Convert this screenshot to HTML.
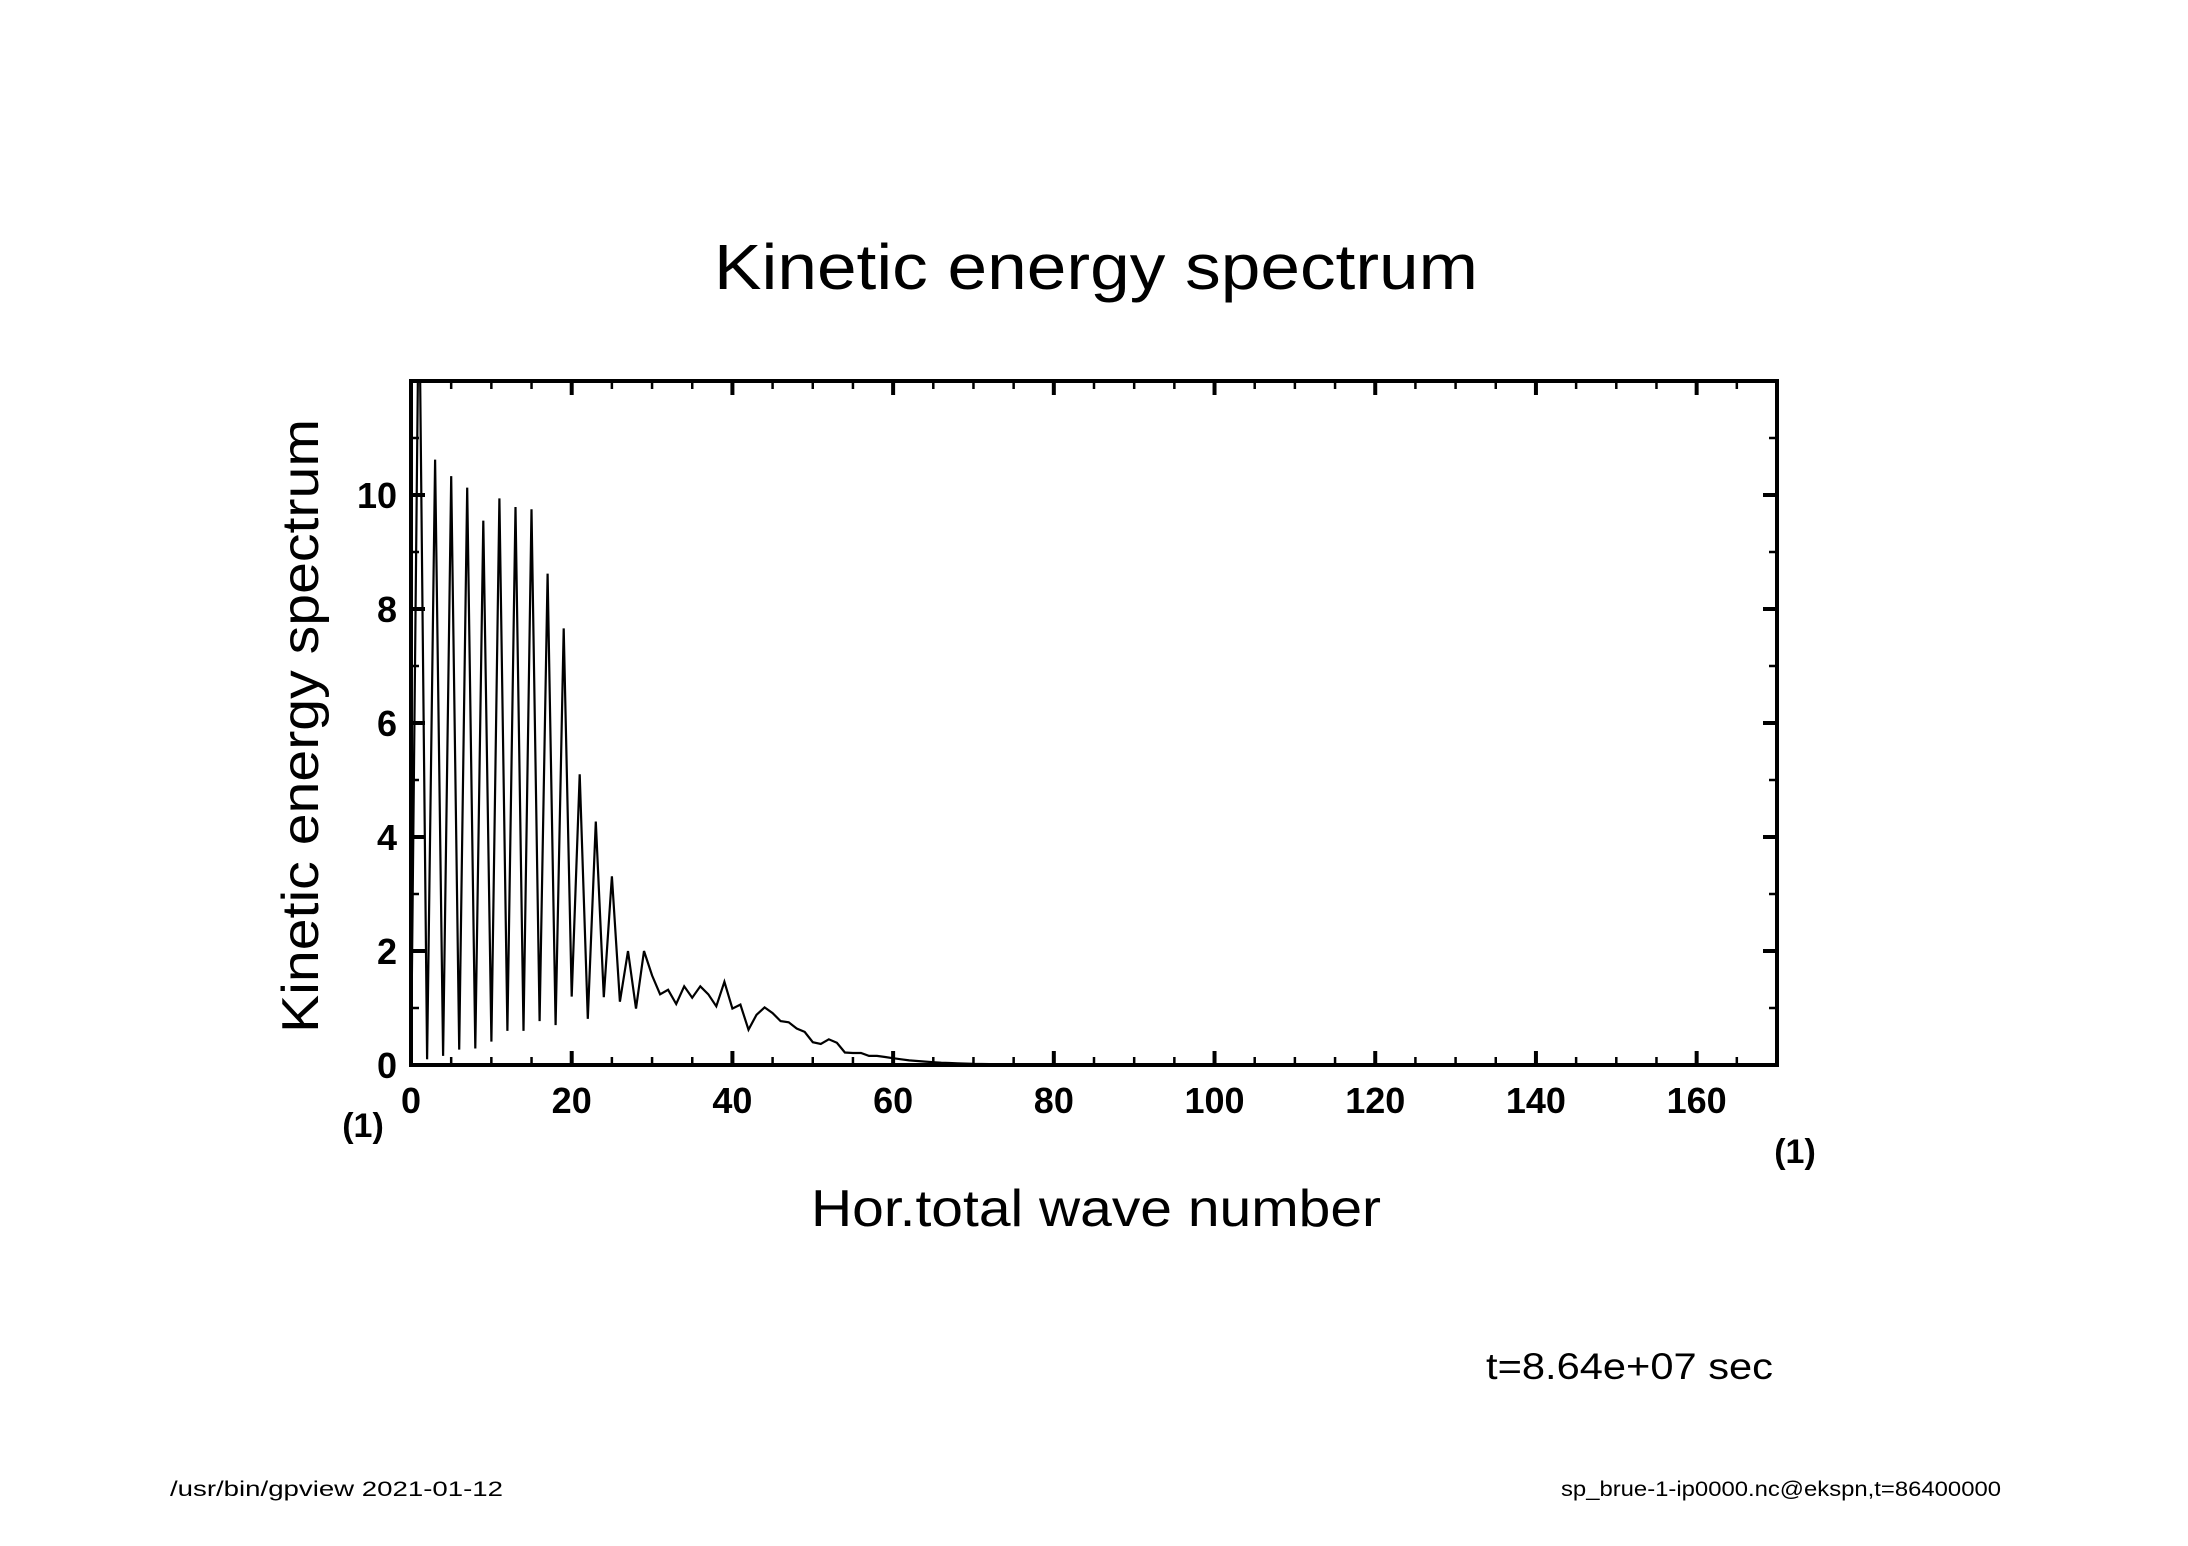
<!DOCTYPE html>
<html><head><meta charset="utf-8"><style>
html,body{margin:0;padding:0;background:#fff;}
svg{display:block;}
text{font-family:"Liberation Sans","DejaVu Sans",sans-serif;fill:#000;}
</style></head><body>
<svg id="chart" width="2188" height="1546" viewBox="0 0 2188 1546" xmlns="http://www.w3.org/2000/svg">
<defs><clipPath id="clip"><rect x="411" y="381" width="1366" height="684"/></clipPath></defs>
<text x="1096" y="289" text-anchor="middle" font-size="64" textLength="764" lengthAdjust="spacingAndGlyphs">Kinetic energy spectrum</text>
<g id="axes"></g>
<g id="series" clip-path="url(#clip)"></g>
<rect x="411" y="381" width="1366" height="684" fill="none" stroke="#000" stroke-width="4"/>
<text x="363" y="1137" text-anchor="middle" font-size="34" font-weight="bold">(1)</text>
<text x="1795" y="1163" text-anchor="middle" font-size="34" font-weight="bold">(1)</text>
<text x="1096" y="1226" text-anchor="middle" font-size="52" textLength="570" lengthAdjust="spacingAndGlyphs">Hor.total wave number</text>
<text transform="translate(318,726) rotate(-90)" text-anchor="middle" font-size="52" textLength="614" lengthAdjust="spacingAndGlyphs">Kinetic energy spectrum</text>
<text x="1486" y="1379" font-size="37" textLength="287" lengthAdjust="spacingAndGlyphs">t=8.64e+07 sec</text>
<text x="170" y="1496" font-size="21" textLength="333" lengthAdjust="spacingAndGlyphs">/usr/bin/gpview  2021-01-12</text>
<text x="1561" y="1496" font-size="21" textLength="440" lengthAdjust="spacingAndGlyphs">sp_brue-1-ip0000.nc@ekspn,t=86400000</text>
</svg>
<script>
const waveNumbers = [];
for (let i = 0; i <= 85; i++) waveNumbers.push(i);
const energyValues = [0,14,0.1,10.62,0.16,10.33,0.27,10.13,0.29,9.55,0.41,9.94,0.6,9.79,0.6,9.75,0.77,8.62,0.7,7.66,1.2,5.1,0.81,4.27,1.19,3.31,1.11,2.0,0.99,2.0,1.57,1.24,1.32,1.07,1.38,1.18,1.38,1.24,1.03,1.46,0.99,1.06,0.62,0.88,1.01,0.91,0.77,0.75,0.64,0.58,0.40,0.37,0.45,0.39,0.22,0.21,0.21,0.16,0.16,0.14,0.12,0.10,0.08,0.07,0.06,0.05,0.04,0.035,0.03,0.025,0.02,0.018,0.015,0.012,0.01,0.008,0.006,0.005,0.004,0.003,0.002,0.002,0.001,0.001,0.0,0.0];
const xTickLabels = [0,20,40,60,80,100,120,140,160];
const yTickLabels = [0,2,4,6,8,10];
const X0=411, X1=1777, Y0=1065, Y1=381, XMAX=170, YMAX=12;
const sx = v => X0 + v/XMAX*(X1-X0);
const sy = v => Y0 - v/YMAX*(Y0-Y1);
const NS='http://www.w3.org/2000/svg';
const axes=document.getElementById('axes');
function ln(x1,y1,x2,y2,w){const l=document.createElementNS(NS,'line');l.setAttribute('x1',x1);l.setAttribute('y1',y1);l.setAttribute('x2',x2);l.setAttribute('y2',y2);l.setAttribute('stroke','#000');l.setAttribute('stroke-width',w);return l;}
for(let v=0;v<=XMAX;v+=5){
  const major=v%20===0, L=major?14:8, w=major?4:2.5;
  const b=ln(sx(v),Y0,sx(v),Y0-L,w);
  
  
  axes.appendChild(b);
  const t=ln(sx(v),Y1,sx(v),Y1+L,w);
  
  
  axes.appendChild(t);
}
for(let v=0;v<=YMAX;v+=1){
  const major=v%2===0, L=major?14:8, w=major?4:2.5;
  const a=ln(X0,sy(v),X0+L,sy(v),w);
  
  
  axes.appendChild(a);
  const b=ln(X1,sy(v),X1-L,sy(v),w);
  
  
  axes.appendChild(b);
}
xTickLabels.forEach(v=>{
  const t=document.createElementNS(NS,'text');
  t.setAttribute('x',sx(v));t.setAttribute('y',Y0+48);
  t.setAttribute('text-anchor','middle');t.setAttribute('font-size','36');t.setAttribute('font-weight','bold');
  t.textContent=v;
  
  
  axes.appendChild(t);
});
yTickLabels.forEach(v=>{
  const t=document.createElementNS(NS,'text');
  t.setAttribute('x',X0-14);t.setAttribute('y',sy(v)+13);
  t.setAttribute('text-anchor','end');t.setAttribute('font-size','36');t.setAttribute('font-weight','bold');
  t.textContent=v;
  
  
  axes.appendChild(t);
});
const p=document.createElementNS(NS,'polyline');
p.setAttribute('points',waveNumbers.map((n,i)=>sx(n).toFixed(1)+','+sy(energyValues[i]).toFixed(1)).join(' '));
p.setAttribute('fill','none');p.setAttribute('stroke','#000');p.setAttribute('stroke-width','2.2');p.setAttribute('stroke-linejoin','miter');


document.getElementById('series').appendChild(p);
</script>
</body></html>
